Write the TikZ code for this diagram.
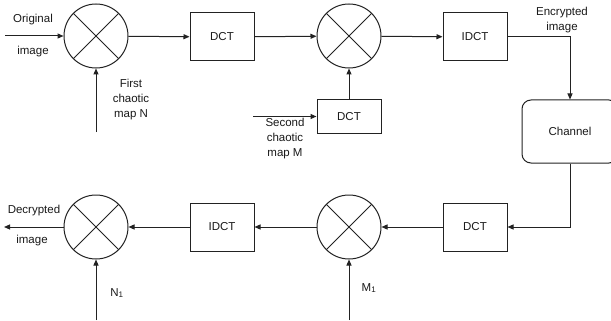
\documentclass[tikz,border=0pt]{standalone}
\usepackage{fontspec}
\setmainfont{Liberation Sans}
\usetikzlibrary{arrows.meta}
\definecolor{DiaLine}{HTML}{222222}
\definecolor{DiaText}{HTML}{1A1A1A}

\begin{document}
\begin{tikzpicture}[x=1pt,y=-1pt,
  mixer/.style={draw=DiaLine,line width=1pt,circle,minimum size=64pt,inner sep=0pt},
  block/.style={draw=DiaLine,line width=1pt,minimum width=64pt,minimum height=48pt,inner sep=0pt,text=DiaText,font=\fontsize{11.5}{13}\selectfont},
  flow/.style={draw=DiaLine,line width=1pt,-{Triangle[length=6pt,width=5pt]}},
  wire/.style={draw=DiaLine,line width=1pt},
  lbl/.style={text=DiaText,font=\fontsize{11.5}{15}\selectfont,align=center,inner sep=0pt}]
\path[use as bounding box] (0,0) rectangle (611,321);
\fill[white] (0,0) rectangle (611,321);
% encryption row
\node[mixer] (mixA) at (96,36) {};
\node[block] (dctA) at (222,37) {DCT};
\node[mixer] (mixB) at (349,36) {};
\node[block] (idctA) at (475,37) {IDCT};
\node[block,minimum height=33pt] (dctB) at (349,116.5) {DCT};
\node[block,minimum width=96pt,minimum height=63pt,rounded corners=9pt] (chan) at (570,131.5) {Channel};
% decryption row
\node[block] (dctC) at (475,227) {DCT};
\node[mixer] (mixC) at (349,227) {};
\node[block] (idctB) at (222,227) {IDCT};
\node[mixer] (mixD) at (96,227) {};
\foreach \m in {mixA,mixB,mixC,mixD} {
  \draw[wire] (\m.north west) -- (\m.south east);
  \draw[wire] (\m.north east) -- (\m.south west);
}
% free ends
\coordinate (src) at (5,36);
\coordinate (keyN) at (96,132);
\coordinate (keyM) at (253,116.5);
\coordinate (dst) at (4,227);
\coordinate (keyNa) at (96,320);
\coordinate (keyMa) at (349,320);
% connectors
\draw[flow] (src) -- (mixA);
\draw[flow] (keyN) -- (mixA);
\draw[flow] (mixA) -- (dctA);
\draw[flow] (dctA) -- (mixB);
\draw[flow] (keyM) -- (dctB);
\draw[flow] (dctB) -- (mixB);
\draw[flow] (mixB) -- (idctA);
\draw[flow] (idctA.east) -| (chan.north);
\draw[flow] (chan.south) |- (dctC.east);
\draw[flow] (dctC) -- (mixC);
\draw[flow] (keyMa) -- (mixC);
\draw[flow] (mixC) -- (idctB);
\draw[flow] (idctB) -- (mixD);
\draw[flow] (keyNa) -- (mixD);
\draw[flow] (mixD) -- (dst);
% labels
\node[lbl] (tOrig) at (33,20) {Original};
\node[lbl] (tImgA) at (33,52) {image};
\node[lbl] (tKeyN) at (131,100) {First\\chaotic\\map N};
\node[lbl] (tKeyM) at (285,139) {Second\\chaotic\\map M};
\node[lbl] (tEnc) at (562,20) {Encrypted\\image};
\node[lbl] (tDec) at (34,211) {Decrypted};
\node[lbl] (tImgB) at (32,241) {image};
\node[lbl] (tNa) at (117,293) {N\textsubscript{1}};
\node[lbl] (tMa) at (369,288) {M\textsubscript{1}};
\end{tikzpicture}
\end{document}
